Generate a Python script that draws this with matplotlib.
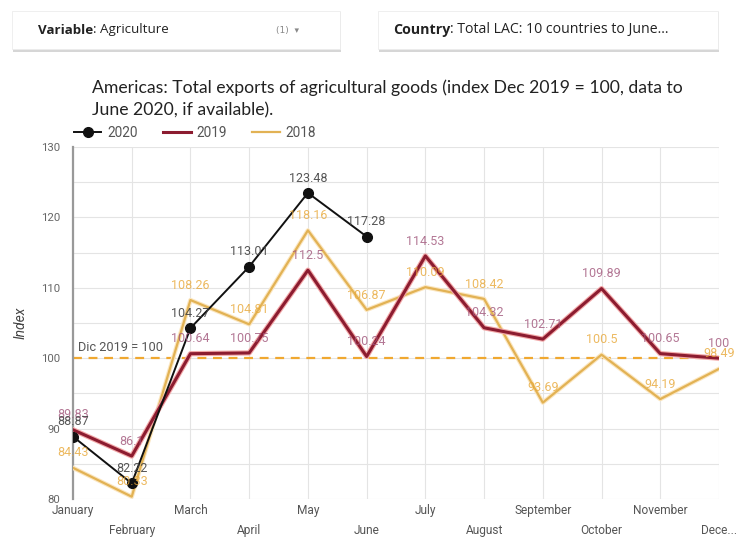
import matplotlib
matplotlib.use("Agg")
import matplotlib.pyplot as plt
from matplotlib.patches import Rectangle
from matplotlib.lines import Line2D
import matplotlib.patheffects as pe

months = ["January", "February", "March", "April", "May", "June", "July",
          "August", "September", "October", "November", "Dece..."]
y2020 = [88.87, 82.22, 104.27, 113.01, 123.48, 117.28]
y2019 = [89.83, 86.1, 100.64, 100.75, 112.5, 100.24, 114.53, 104.32, 102.71, 109.89, 100.65, 100]
y2018 = [84.43, 80.33, 108.26, 104.81, 118.16, 106.87, 110.09, 108.42, 93.69, 100.5, 94.19, 98.49]
lbl2020 = ["88.87", "82.22", "104.27", "113.01", "123.48", "117.28"]
lbl2019 = ["89.83", "86.1", "100.64", "100.75", "112.5", "100.24", "114.53", "104.32", "102.71", "109.89", "100.65", "100"]
lbl2018 = ["84.43", "80.33", "108.26", "104.81", "118.16", "106.87", "110.09", "108.42", "93.69", "100.5", "94.19", "98.49"]
ref_value = 100

W, H = 736, 538
fig = plt.figure(figsize=(W / 100, H / 100), dpi=100)
fig.patch.set_facecolor("white")
renderer = fig.canvas.get_renderer()

def fx(px):
    return px / W

def fy(py):
    return 1 - py / H

def two_part(xpx, ypx, bold, rest, size):
    t = fig.text(fx(xpx), fy(ypx), bold, fontsize=size, fontweight="bold",
                 color="#222222", va="center", family="Open Sans")
    bb = t.get_window_extent(renderer=renderer)
    fig.text(bb.x1 / W, fy(ypx), rest, fontsize=size, color="#222222",
             va="center", family="Open Sans")

# filter boxes
for (x0, x1) in [(12, 340), (378, 718)]:
    fig.patches.append(Rectangle((fx(x0 + 1), fy(52)), fx(x1 - x0), 40 / H,
                                 transform=fig.transFigure, facecolor="#d6d6d6",
                                 edgecolor="none", zorder=0))
    fig.patches.append(Rectangle((fx(x0), fy(49)), fx(x1 - x0), 38 / H,
                                 transform=fig.transFigure, facecolor="white",
                                 edgecolor="#ececec", lw=0.6, zorder=1))
two_part(38, 30, "Variable", ": Agriculture", 9.6)
fig.text(fx(276), fy(31), "(1)  ▾", fontsize=6.5, color="#888888", va="center",
         family="DejaVu Sans")
two_part(393, 30, "Country", ": Total LAC: 10 countries to June...", 10.2)

# title
fig.text(fx(92), fy(88), "Americas: Total exports of agricultural goods (index Dec 2019 = 100, data to",
         fontsize=12.7, color="#222222", va="center", family="Lato")
fig.text(fx(92), fy(110), "June 2020, if available).", fontsize=12.7, color="#222222",
         va="center", family="Lato")

ax = fig.add_axes([fx(73), fy(499), fx(719 - 73), (499 - 147) / H])
x = list(range(len(months)))

c2018 = "#e2b254"
c2019 = "#8c1c30"
c2020 = "#111111"

ax.axhline(ref_value, color="#f0a830", lw=1.6, ls=(0, (4, 3)), zorder=2)
ax.plot(x, y2018, color=c2018, lw=1.6, zorder=3,
        path_effects=[pe.Stroke(linewidth=3.2, foreground="#fbe6c0"), pe.Normal()])
ax.plot(x, y2019, color=c2019, lw=2.2, zorder=4,
        path_effects=[pe.Stroke(linewidth=3.8, foreground="#f2a8a8"), pe.Normal()])
ax.plot(x[:len(y2020)], y2020, color=c2020, lw=1.4, marker="o", ms=7, zorder=5)

for xi, v, t in zip(x, y2018, lbl2018):
    ax.annotate(t, (xi, v), xytext=(0, 6), textcoords="offset points", ha="center",
                va="bottom", fontsize=9, color="#e8a838", alpha=0.8, zorder=6,
                family="Roboto")
for xi, v, t in zip(x, y2019, lbl2019):
    ax.annotate(t, (xi, v), xytext=(0, 6), textcoords="offset points", ha="center",
                va="bottom", fontsize=9, color="#a0557a", alpha=0.8, zorder=6,
                family="Roboto")
for xi, v, t in zip(x, y2020, lbl2020):
    ax.annotate(t, (xi, v), xytext=(0, 6), textcoords="offset points", ha="center",
                va="bottom", fontsize=9, color="#444444", alpha=0.9, zorder=7,
                family="Roboto")

ax.text(0.08, ref_value + 0.6, "Dic 2019 = 100", fontsize=9.2, color="#555555",
        va="bottom", ha="left", family="Roboto", zorder=6)

ax.set_xlim(0, len(months) - 1)
ax.set_ylim(80, 130)
ax.set_yticks([80, 90, 100, 110, 120, 130])
ax.set_yticks([85, 95, 105, 115, 125], minor=True)
ax.set_xticks(x)
ax.set_xticklabels(["" for _ in months])
for xi, m in zip(x, months):
    off = -8 if xi % 2 == 0 else -22.5
    ax.annotate(m, (xi, 80), xytext=(0, off), textcoords="offset points",
                ha="center", va="center", fontsize=8.6, color="#555555",
                family="Roboto", annotation_clip=False)
ax.tick_params(axis="both", which="both", length=0, labelsize=8.2, labelcolor="#666666")
ax.tick_params(axis="y", pad=9)
for lab in ax.get_yticklabels():
    lab.set_family("Roboto")
ax.grid(True, which="both", color="#e4e4e4", lw=0.8)
ax.set_axisbelow(True)
for s in ["top", "right", "bottom"]:
    ax.spines[s].set_visible(False)
ax.spines["left"].set_color("#999999")
ax.spines["left"].set_linewidth(1.6)
ax.set_ylabel("Index", fontsize=10, color="#444444", style="italic", labelpad=10,
              family="Roboto")

# legend
handles = [Line2D([], [], color=c2020, lw=1.4, marker="o", ms=7),
           Line2D([], [], color=c2019, lw=2.2),
           Line2D([], [], color=c2018, lw=1.6)]
fig.legend(handles, ["2020", "2019", "2018"], loc="center left",
           bbox_to_anchor=(fx(62), fy(133)), ncol=3, frameon=False,
           handlelength=2.0, columnspacing=1.9, handletextpad=0.4,
           labelcolor="#555555", prop={"family": "Roboto", "size": 9.8})

fig.savefig("out.png", dpi=100, facecolor="white")
